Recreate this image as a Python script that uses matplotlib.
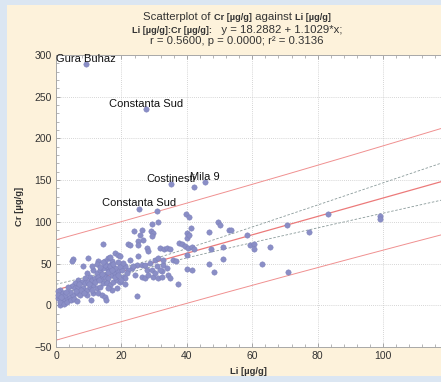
import numpy as np
import matplotlib
matplotlib.use("Agg")
import matplotlib.pyplot as plt
from matplotlib.ticker import MultipleLocator
from matplotlib.patches import Rectangle

# ---------------- data ----------------
li = [9.2, 27.5, 35.2, 45.6, 42.2, 25.4, 30.9, 39.8, 40.7,
      46.9, 49.6, 50.2, 53.0, 53.6, 58.3, 59.3, 60.6, 60.6, 47.5, 51.2, 51.2, 46.9, 48.4,
      63.0, 65.3, 70.5, 71.0, 77.2, 83.3, 99.1, 99.1,
      14.3, 22.1, 22.6, 23.9, 26.4, 25.7, 26.7, 25.2, 29.3, 31.3, 29.0, 29.6, 29.3, 27.7, 28.0,
      31.8, 33.0, 34.0, 35.0, 37.6, 38.6, 39.5, 40.5, 41.5, 42.2, 40.0, 40.0, 40.8, 41.3,
      40.0, 41.7, 37.4, 35.7, 36.6, 40.0, 32.8, 33.8, 32.3, 34.3, 34.9, 25.2,
      18.0, 18.9, 19.6, 16.0, 17.0, 16.5, 15.5, 22.6, 25.2, 24.7, 23.1, 22.1,
      26.2, 27.2, 28.7, 30.3, 31.3, 32.8, 27.7, 29.2, 30.8, 31.8,
      24.2, 26.2, 27.2, 28.2, 29.8, 30.3, 31.3, 32.3, 24.7,
      5.1, 4.8, 9.9, 8.2, 12.9, 12.4, 15.0, 11.2, 12.4, 13.5, 14.5, 15.5, 9.4, 10.4, 8.9,
      6.8, 7.8, 5.8, 4.8, 3.8, 1.2, 0.7, 0.7, 1.7, 2.8, 1.2, 3.3, 1.2,
      4.3, 5.3, 6.3, 7.3, 8.3, 9.4, 10.4, 11.4, 12.4, 13.5, 14.5, 15.5,
      8.9, 9.9, 10.9, 11.9, 12.9, 14.0, 15.0, 9.4, 11.4, 12.9, 14.0, 15.0, 10.6, 15.3,
      4.3, 5.8, 6.8, 2.2, 2.8,
      15.0, 16.0, 17.0, 18.0, 19.1, 20.1, 21.1, 15.0, 16.5, 18.0, 19.6, 20.6,
      15.5, 16.5, 17.5, 18.6, 19.6, 17.0, 18.6, 16.0, 20.6, 21.1, 21.6, 23.6,
      0.5, 1.5, 2.5, 3.5, 4.5, 5.5, 6.5, 7.5, 8.5, 3.0, 6.0, 7.0, 10.0, 11.0, 12.0,
      13.0, 14.0, 16.0, 17.0, 18.0, 19.0, 13.5, 11.0, 14.5, 16.5, 17.5, 19.0, 20.0, 21.0]
cr = [289, 235, 145, 148, 142, 116, 113, 110, 106,
      87.6, 99.6, 96.5, 89.8, 90.6, 84.0, 72.3, 73.9, 67.3, 67.0, 70.0, 55.2, 49.8, 39.8,
      49.8, 70.3, 96.0, 39.8, 87.3, 109.6, 106.8, 104.0,
      73.9, 73.9, 72.6, 89.5, 90.7, 84.5, 78.7, 76.7, 97.6, 99.6, 89.5, 86.7, 83.5, 68.7, 64.7,
      68.5, 67.0, 69.0, 68.0, 74.5, 73.5, 70.7, 68.7, 69.5, 67.8, 80.5, 86.7, 84.7, 92.5,
      43.7, 42.5, 25.3, 54.6, 53.6, 60.6, 48.6, 44.6, 40.6, 36.5, 32.5, 72.6,
      62.6, 60.6, 58.6, 56.6, 52.6, 48.6, 44.6, 54.6, 58.6, 48.6, 44.6, 42.5,
      48.6, 48.6, 50.6, 54.6, 56.6, 54.6, 42.5, 42.5, 46.6, 42.5,
      36.5, 34.5, 32.5, 35.8, 34.5, 38.5, 32.5, 34.5, 11.2,
      55.4, 53.4, 56.6, 46.6, 52.6, 49.8, 53.4, 42.5, 38.5, 42.5, 44.6, 46.6, 38.5, 34.5, 32.5,
      30.5, 28.5, 26.5, 23.7, 22.5, 18.5, 17.2, 8.4, 4.4, 6.4, 0.4, 8.4, 4.4,
      10.4, 12.4, 14.5, 12.4, 20.5, 18.5, 22.5, 24.5, 20.5, 22.5, 26.5, 28.5,
      26.5, 28.5, 30.5, 32.5, 34.5, 32.5, 36.5, 12.4, 14.5, 14.5, 12.4, 10.4, 6.4, 6.4,
      16.5, 20.5, 22.5, 14.5, 12.4,
      34.5, 32.5, 36.5, 38.5, 40.6, 42.5, 46.6, 48.6, 46.6, 44.6, 46.6, 50.6,
      26.5, 24.5, 28.5, 30.5, 28.5, 18.5, 20.5, 20.5, 34.5, 32.5, 38.5, 46.6,
      12.0, 10.0, 2.0, 4.0, 6.0, 8.0, 5.0, 18.0, 15.0, 16.0, 17.0, 25.0, 25.0, 18.0, 28.0,
      30.0, 38.0, 40.0, 42.0, 34.0, 36.0, 46.0, 47.0, 52.0, 58.0, 50.0, 52.0, 30.0, 25.0]

labels = ["Gura Buhaz", "Constanta Sud", "Costinesti", "Mila 9", "Constanta Sud"]
label_idx = [0, 1, 2, 3, 5]

intercept = 18.2882
slope = 1.1029
r_val, p_val, r2_val = 0.5600, 0.0000, 0.3136

xticks = [0, 20, 40, 60, 80, 100, 120]
yticks = [-50, 0, 50, 100, 150, 200, 250, 300]

# ---------------- figure ----------------
W, H = 441, 382
plt.rcParams["font.family"] = ["Liberation Sans", "DejaVu Sans"]
fig = plt.figure(figsize=(W / 100, H / 100), dpi=100)
bg = "#fdf2db"
edge = "#dbe6f2"
fig.patch.set_facecolor(bg)
for rx, ry, rw, rh in [(0, 0, 7, H), (0, 0, W, 6), (0, H - 5, W, 5)]:
    fig.patches.append(Rectangle((rx / W, ry / H), rw / W, rh / H,
                                 transform=fig.transFigure, facecolor=edge,
                                 edgecolor="none", zorder=-5))

ax_l, ax_r, ax_t, ax_b = 56, 448.5, 55, 347
ax = fig.add_axes([ax_l / W, 1 - ax_b / H, (ax_r - ax_l) / W, (ax_b - ax_t) / H])
ax.set_facecolor("white")
ax.set_xlim(0, 120)
ax.set_ylim(-50, 300)

x = np.array(li)
y = np.array(cr)
n = len(x)
mx = x.mean()
sxx = ((x - mx) ** 2).sum()
resid = y - (intercept + slope * x)
s = np.sqrt((resid ** 2).sum() / (n - 2))
tval = 1.97
xs = np.linspace(0, 120, 200)
yhat = intercept + slope * xs
conf = tval * s * np.sqrt(1 / n + (xs - mx) ** 2 / sxx)
pred = tval * s * np.sqrt(1 + 1 / n + (xs - mx) ** 2 / sxx)

ax.grid(True, color="#c8c8c8", linestyle=(0, (1, 1.5)), linewidth=0.6)
ax.set_axisbelow(True)

ax.plot(xs, yhat, color="#ec7a7a", lw=0.9, zorder=2)
ax.plot(xs, yhat + pred, color="#f09090", lw=0.7, zorder=2)
ax.plot(xs, yhat - pred, color="#f09090", lw=0.7, zorder=2)
ax.plot(xs, yhat + conf, color="#8a9a9a", lw=0.6, ls=(0, (3, 2)), zorder=2)
ax.plot(xs, yhat - conf, color="#8a9a9a", lw=0.6, ls=(0, (3, 2)), zorder=2)

ax.scatter(x, y, s=15, color="#8a8ec6", edgecolors="#7a7eb8", linewidths=0.3,
           zorder=3, clip_on=False)

for lab, i in zip(labels, label_idx):
    ax.annotate(lab, (li[i], cr[i]), xytext=(0, 1.5), textcoords="offset points",
                ha="center", va="baseline", fontsize=8, color="#111111", zorder=4)

ax.set_xticks(xticks)
ax.set_yticks(yticks)
ax.xaxis.set_minor_locator(MultipleLocator(4))
ax.yaxis.set_minor_locator(MultipleLocator(10))
ax.tick_params(which="both", direction="in", top=True, right=True,
               color="#999999", labelsize=7.5, labelcolor="#333333")
ax.tick_params(which="major", length=3, width=0.6, pad=3)
ax.tick_params(which="minor", length=2, width=0.5)
for sp in ax.spines.values():
    sp.set_color("#a8a8a8")
    sp.set_linewidth(0.7)

ax.set_xlabel("Li [µg/g]", fontsize=6.8, fontweight="bold", color="#333333")
ax.xaxis.set_label_coords((248 - ax_l) / (ax_r - ax_l), -(367 - ax_b) / (ax_b - ax_t))
ax.set_ylabel("Cr [µg/g]", fontsize=6.8, fontweight="bold", color="#333333")
ax.yaxis.set_label_coords(-(ax_l - 24) / (ax_r - ax_l), (ax_b - 206) / (ax_b - ax_t))

# ---------------- title (mixed fonts) ----------------
renderer = fig.canvas.get_renderer()


def mixed_line(pieces, baseline_px, center_px=237):
    texts = []
    for txt, weight, size in pieces:
        t = fig.text(0, 1 - baseline_px / H, txt, fontsize=size, fontweight=weight,
                     ha="left", va="baseline", color="#333333")
        texts.append(t)
    widths = [t.get_window_extent(renderer).width for t in texts]
    xpos = center_px - sum(widths) / 2
    for t, w in zip(texts, widths):
        t.set_x(xpos / W)
        xpos += w


mixed_line([("Scatterplot of ", "normal", 8.2), ("Cr [µg/g]", "bold", 6.6),
            (" against ", "normal", 8.2), ("Li [µg/g]", "bold", 6.6)], 20)
mixed_line([("Li [µg/g]:Cr [µg/g]:", "bold", 6.6),
            (f"   y = {intercept:.4f} + {slope:.4f}*x;", "normal", 8.2)], 33)
mixed_line([(f"r = {r_val:.4f}, p = {p_val:.4f}; r² = {r2_val:.4f}", "normal", 8.2)], 43.5)

fig.savefig("out.png", dpi=100, facecolor=fig.get_facecolor())
